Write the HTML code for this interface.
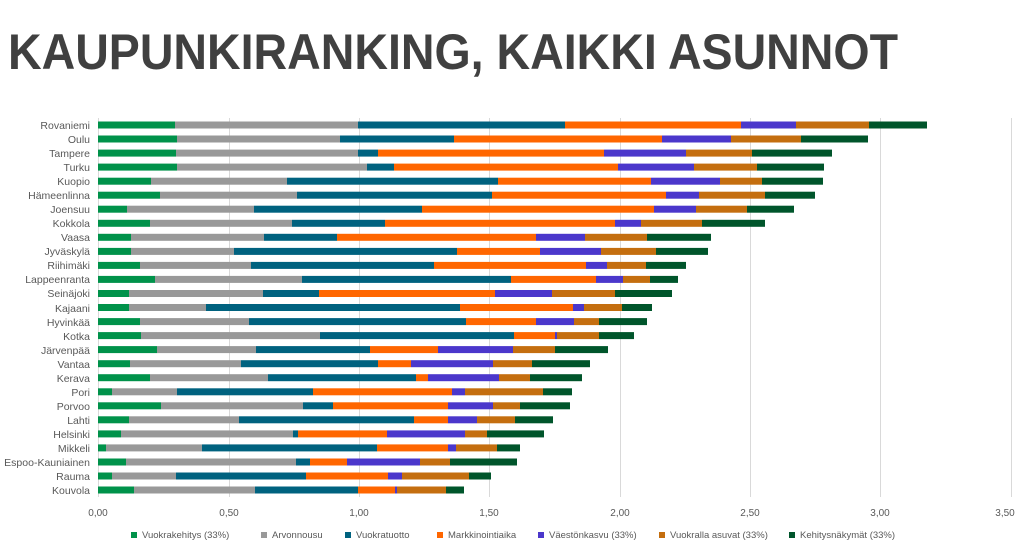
<!DOCTYPE html>
<html><head><meta charset="utf-8"><style>
html,body{margin:0;padding:0;background:#fff;}
svg{display:block;font-family:"Liberation Sans",sans-serif;}
</style></head><body>
<svg id="s" width="1031" height="547" viewBox="0 0 1031 547" xmlns="http://www.w3.org/2000/svg">
<text x="8" y="69" font-size="50" font-weight="bold" fill="#404040" textLength="890" lengthAdjust="spacingAndGlyphs">KAUPUNKIRANKING, KAIKKI ASUNNOT</text>
<g stroke="#d9d9d9" stroke-width="1">
<line x1="98.5" y1="118" x2="98.5" y2="497"/><line x1="229.5" y1="118" x2="229.5" y2="497"/><line x1="359.5" y1="118" x2="359.5" y2="497"/><line x1="489.5" y1="118" x2="489.5" y2="497"/><line x1="620.5" y1="118" x2="620.5" y2="497"/><line x1="750.5" y1="118" x2="750.5" y2="497"/><line x1="880.5" y1="118" x2="880.5" y2="497"/><line x1="1011.5" y1="118" x2="1011.5" y2="497"/>
</g>
<g id="bars"></g>
<g font-size="10.5" fill="#595959" text-anchor="end">
<text x="90" y="129">Rovaniemi</text><text x="90" y="143">Oulu</text><text x="90" y="157">Tampere</text><text x="90" y="171">Turku</text><text x="90" y="185">Kuopio</text><text x="90" y="199">Hämeenlinna</text><text x="90" y="213">Joensuu</text><text x="90" y="227">Kokkola</text><text x="90" y="241">Vaasa</text><text x="90" y="255">Jyväskylä</text><text x="90" y="269">Riihimäki</text><text x="90" y="283">Lappeenranta</text><text x="90" y="297">Seinäjoki</text><text x="90" y="312">Kajaani</text><text x="90" y="326">Hyvinkää</text><text x="90" y="340">Kotka</text><text x="90" y="354">Järvenpää</text><text x="90" y="368">Vantaa</text><text x="90" y="382">Kerava</text><text x="90" y="396">Pori</text><text x="90" y="410">Porvoo</text><text x="90" y="424">Lahti</text><text x="90" y="438">Helsinki</text><text x="90" y="452">Mikkeli</text><text x="90" y="466">Espoo-Kauniainen</text><text x="90" y="480">Rauma</text><text x="90" y="494">Kouvola</text>
</g>
<g font-size="10" fill="#595959" text-anchor="middle">
<text x="98" y="516">0,00</text><text x="229" y="516">0,50</text><text x="359" y="516">1,00</text><text x="489" y="516">1,50</text><text x="620" y="516">2,00</text><text x="750" y="516">2,50</text><text x="880" y="516">3,00</text><text x="1005" y="516">3,50</text>
</g>
<g font-size="9.5" fill="#595959">
<rect x="131" y="532" width="6" height="6" fill="#00924A"/><text x="142" y="538">Vuokrakehitys (33%)</text>
<rect x="261" y="532" width="6" height="6" fill="#999999"/><text x="272" y="538">Arvonnousu</text>
<rect x="345" y="532" width="6" height="6" fill="#00627F"/><text x="356" y="538">Vuokratuotto</text>
<rect x="437" y="532" width="6" height="6" fill="#FF6600"/><text x="448" y="538">Markkinointiaika</text>
<rect x="538" y="532" width="6" height="6" fill="#4B37CB"/><text x="549" y="538">Väestönkasvu (33%)</text>
<rect x="659" y="532" width="6" height="6" fill="#C46E0F"/><text x="670" y="538">Vuokralla asuvat (33%)</text>
<rect x="789" y="532" width="6" height="6" fill="#00552B"/><text x="800" y="538">Kehitysnäkymät (33%)</text>
</g>
</svg>
<script>
var C=["#00924A","#999999","#00627F","#FF6600","#4B37CB","#C46E0F","#00552B"];
var D=[
[175,358,565,741,796,869,927],
[177,340,454,662,731,801,868],
[176,358,378,604,686,752,832],
[177,367,394,618,694,757,824],
[151,287,498,651,720,762,823],
[160,297,492,666,699,765,815],
[127,254,422,654,696,747,794],
[150,292,385,615,641,702,765],
[131,264,337,536,585,647,711],
[131,234,457,540,601,656,708],
[140,251,434,586,607,646,686],
[155,302,511,596,623,650,678],
[129,263,319,495,552,615,672],
[129,206,460,573,584,622,652],
[140,249,466,536,574,599,647],
[141,320,514,555,557,599,634],
[157,256,370,438,513,555,608],
[130,241,378,411,493,532,590],
[150,268,416,428,499,530,582],
[112,177,313,452,465,543,572],
[161,303,333,448,493,520,570],
[129,239,414,448,477,515,553],
[121,293,298,387,465,487,544],
[106,202,377,448,456,497,520],
[126,296,310,347,420,450,517],
[112,176,306,388,402,469,491],
[134,255,358,395,397,446,464]];
var g=document.getElementById("bars"),ns="http://www.w3.org/2000/svg";
D.forEach(function(r,i){var y=125+i*14.04-3.5,p=98;r.forEach(function(x,j){var e=document.createElementNS(ns,"rect");e.setAttribute("x",p);e.setAttribute("y",y.toFixed(1));e.setAttribute("width",Math.max(0,x-p));e.setAttribute("height",7);e.setAttribute("fill",C[j]);g.appendChild(e);p=x;});});
</script>
</body></html>
